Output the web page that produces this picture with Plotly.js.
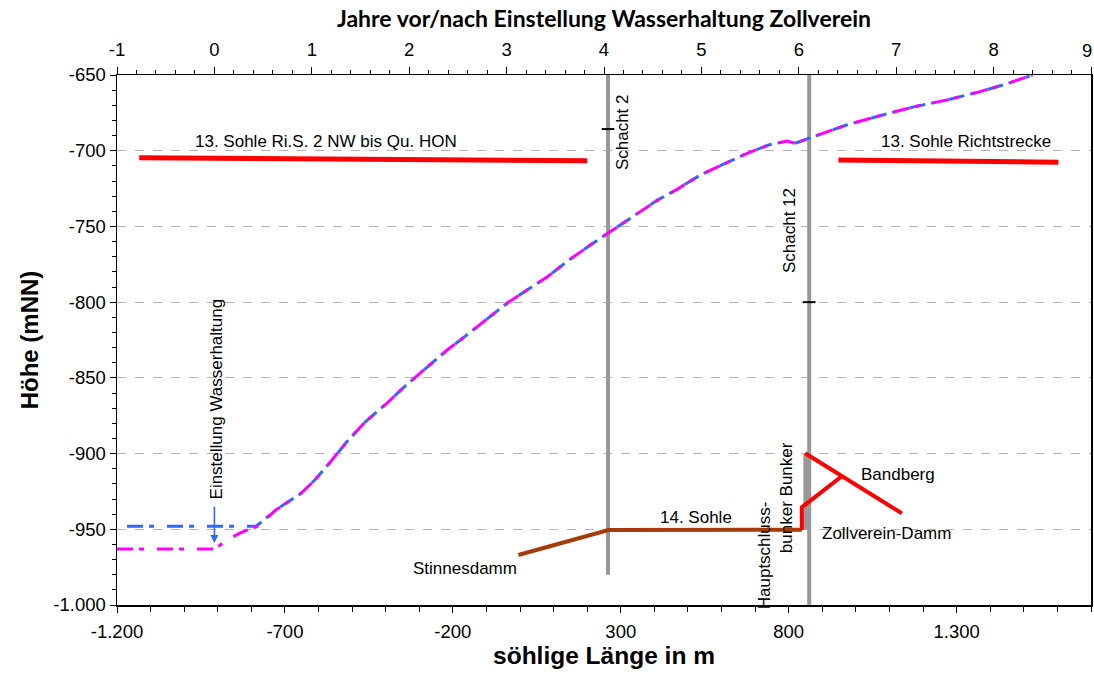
<!DOCTYPE html>
<html>
<head>
<meta charset="utf-8">
<script src="https://cdn.plot.ly/plotly-3.0.1.min.js"></script>
<style>html,body{margin:0;padding:0;background:#fff;}#chart{width:1094px;height:678px;}</style>
</head>
<body>
<div id="chart"></div>
<script>
// ---- water level rise (top axis: years after stop of dewatering) ----
const blueYears = [-1, 0.43, 0.63, 0.89, 1.03, 1.18, 1.36, 1.55, 1.77, 1.95, 2.17, 2.39, 2.57, 2.83, 3.01, 3.42, 3.64, 3.86, 4.04, 4.30, 4.55, 4.74, 4.99, 5.21, 5.47, 5.69, 5.88, 5.96, 6.11, 6.25, 6.49, 6.86, 7.19, 7.52, 7.86, 8.13, 8.37];
const blueLevel = [-948, -948, -937.3, -926.2, -917.5, -906.4, -892.2, -879.0, -866.8, -855.9, -843.7, -831.6, -822.8, -809.6, -800.4, -783.2, -772.2, -762.3, -754.5, -743.6, -732.6, -725.9, -716.0, -709.4, -701.7, -696.2, -693.6, -695.1, -691.8, -688.5, -683.0, -676.4, -670.9, -666.5, -661.0, -655.9, -650.7];
const magentaYears = [-1, 0, 0.15, 0.26, 0.45, 0.63, 0.89, 1.03, 1.18, 1.36, 1.55, 1.77, 1.95, 2.17, 2.39, 2.57, 2.83, 3.01, 3.42, 3.64, 3.86, 4.04, 4.30, 4.55, 4.74, 4.99, 5.21, 5.47, 5.69, 5.88, 5.96, 6.11, 6.25, 6.49, 6.86, 7.19, 7.52, 7.86, 8.13, 8.40];
const magentaLevel = [-963, -963, -956.4, -952.5, -947.8, -937.3, -926.2, -917.5, -906.4, -892.2, -879.0, -866.8, -855.9, -843.7, -831.6, -822.8, -809.6, -800.4, -783.2, -772.2, -762.3, -754.5, -743.6, -732.6, -725.9, -716.0, -709.4, -701.7, -696.2, -693.6, -695.1, -691.8, -688.5, -683.0, -676.4, -670.9, -666.5, -661.0, -655.9, -650.0];

// ---- mine workings (bottom axis: horizontal length in m) ----
const schacht2X = [262, 262];
const schacht2Y = [-650, -980];
const schacht12X = [861, 861];
const schacht12Y = [-650, -1000];
const bunkerX = [854, 854];
const bunkerY = [-900, -950];
const sohle14X = [-5, 263, 839];
const sohle14Y = [-967, -950.5, -950.3];
const sohle13WestX = [-1134, 200];
const sohle13WestY = [-704.6, -706.6];
const sohle13EastX = [948, 1603];
const sohle13EastY = [-706.1, -707.6];
const dammX = [839, 839, 956];
const dammY = [-950.5, -935.5, -915.3];
const bandbergX = [849, 1137];
const bandbergY = [-899.8, -939.5];
const shaftMarkX = [262, 861];
const shaftMarkY = [-685.7, -800];

// ---- tick labels ----
const xTickVals = [-1200, -700, -200, 300, 800, 1300];
const xTickText = ['-1.200', '-700', '-200', '300', '800', '1.300'];
const x2TickVals = [-1, 0, 1, 2, 3, 4, 5, 6, 7, 8, 9];
const x2TickText = ['-1', '0', '1', '2', '3', '4', '5', '6', '7', '8', '9'];
const yTickVals = [-1000, -950, -900, -850, -800, -750, -700, -650];
const yTickText = ['-1.000', '-950', '-900', '-850', '-800', '-750', '-700', '-650'];

// ---- labels ----
const labelTexts = ["13. Sohle Ri.S. 2 NW bis Qu. HON", "13. Sohle Richtstrecke", "14. Sohle", "Stinnesdamm", "Bandberg", "Zollverein-Damm"];
const labelX = [-578, 1328, 524, -164, 1126, 1090];
const labelY = [-693.6, -693.6, -941.9, -975.6, -913.5, -953.1];
const vLabelTexts = ["Schacht 2", "Schacht 12", "Hauptschluss-", "bunker Bunker"];
const vLabelX = [307, 804, 727, 792];
const vLabelY = [-687.6, -753, -967, -929.4];
const stopLabel = "Einstellung Wasserhaltung";
const stopYear = 0;
const stopLabelLevel = -864;
const arrowTipLevel = -959;
const arrowTailLevel = -934;

const xTitle = "söhlige Länge in m";
const x2Title = "Jahre vor/nach Einstellung Wasserhaltung Zollverein";
const yTitle = "Höhe (mNN)";

const GRAY = 'rgb(152,152,152)';
const RED = '#FF0000';
const BROWN = '#A63A08';
const BLUE = 'rgb(51,102,255)';
const MAGENTA = '#FF00FF';
const AR = 'Liberation Sans, Arial, sans-serif';

function seg(x, y, color, width, xaxis) {
  return {x: x, y: y, type: 'scatter', mode: 'lines', xaxis: xaxis || 'x', yaxis: 'y',
          line: {color: color, width: width}, hoverinfo: 'skip', showlegend: false};
}

const traces = [
  seg(schacht2X, schacht2Y, GRAY, 4),
  seg(schacht12X, schacht12Y, GRAY, 4),
  seg(bunkerX, bunkerY, GRAY, 7),
  seg(sohle14X, sohle14Y, BROWN, 4),
  seg(sohle13WestX, sohle13WestY, RED, 5),
  seg(sohle13EastX, sohle13EastY, RED, 5),
  seg(dammX, dammY, RED, 4),
  seg(bandbergX, bandbergY, RED, 4),
  {x: shaftMarkX, y: shaftMarkY, type: 'scatter', mode: 'markers', xaxis: 'x', yaxis: 'y',
   marker: {symbol: 'line-ew', size: 9, line: {color: '#000', width: 2}}, hoverinfo: 'skip', showlegend: false},
  {x: blueYears, y: blueLevel, type: 'scatter', mode: 'lines', xaxis: 'x2', yaxis: 'y', name: 'Wasserstand 1',
   line: {color: BLUE, width: 3, dash: '0px,10px,16px,6px,5px,3px'}, showlegend: false},
  {x: magentaYears, y: magentaLevel, type: 'scatter', mode: 'lines', xaxis: 'x2', yaxis: 'y', name: 'Wasserstand 2',
   line: {color: MAGENTA, width: 3, dash: '16px,6px,5px,13px'}, showlegend: false}
];

const annotations = [];
labelTexts.forEach((t, i) => annotations.push({x: labelX[i], y: labelY[i], xref: 'x', yref: 'y', text: t,
  showarrow: false, font: {family: AR, size: 17, color: '#000'}}));
vLabelTexts.forEach((t, i) => annotations.push({x: vLabelX[i], y: vLabelY[i], xref: 'x', yref: 'y', text: t,
  showarrow: false, textangle: -90, font: {family: AR, size: 17, color: '#000'}}));
annotations.push({x: stopYear, y: stopLabelLevel, xref: 'x2', yref: 'y', text: stopLabel, xshift: 2,
  showarrow: false, textangle: -90, font: {family: AR, size: 17, color: '#000'}});
annotations.push({x: stopYear, y: arrowTipLevel, xref: 'x2', yref: 'y', ax: stopYear, ay: arrowTailLevel,
  axref: 'x2', ayref: 'y', text: '', showarrow: true, arrowhead: 2, arrowsize: 1, arrowwidth: 1.6, arrowcolor: BLUE});
// last top-axis label sits at the right edge of the figure: drawn inside the page
const lastTop = x2TickVals.length - 1;
annotations.push({x: x2TickVals[lastTop], y: 1, xref: 'x2', yref: 'paper', text: x2TickText[lastTop],
  xanchor: 'right', yanchor: 'middle', xshift: 3, yshift: 25, showarrow: false,
  font: {family: AR, size: 18.5, color: '#000'}});
const topTickText = x2TickText.map((t, i) => i === lastTop ? '' : t);

const tickFont = {family: AR, size: 18.5, color: '#000'};

const layout = {
  width: 1094, height: 678,
  margin: {l: 117, r: 3, t: 75, b: 73, pad: 0},
  paper_bgcolor: '#fff', plot_bgcolor: '#fff',
  showlegend: false,
  xaxis: {
    range: [-1200, 1700], tickmode: 'array', tickvals: xTickVals, ticktext: xTickText,
    ticks: 'outside', ticklen: 6, tickwidth: 1, tickcolor: '#000', ticklabelstandoff: 3,
    showline: true, linecolor: '#000', linewidth: 1.5, showgrid: false, zeroline: false,
    tickfont: tickFont, automargin: false,
    minor: {dtick: 100, tick0: -1200, ticks: 'outside', ticklen: 5, tickcolor: '#000', showgrid: false},
    title: {text: '<b>' + xTitle + '</b>', font: {family: AR, size: 24.5, color: '#000'}, standoff: 6}
  },
  xaxis2: {
    overlaying: 'x', side: 'top', anchor: 'y',
    range: [-1, 9], tickmode: 'array', tickvals: x2TickVals, ticktext: topTickText,
    ticks: 'outside', ticklen: 7, tickwidth: 1, tickcolor: '#000', ticklabelstandoff: 3,
    showline: true, linecolor: '#000', linewidth: 1.5, showgrid: false, zeroline: false,
    tickfont: tickFont, automargin: false,
    minor: {dtick: 0.2, tick0: -1, ticks: 'outside', ticklen: 4, tickcolor: '#000', showgrid: false},
    title: {text: '<b>' + x2Title + '</b>', font: {family: 'Lato, Open Sans, sans-serif', size: 23, color: '#000'}, standoff: 5}
  },
  yaxis: {
    range: [-1000, -650], tickmode: 'array', tickvals: yTickVals, ticktext: yTickText,
    ticks: 'outside', ticklen: 6, tickwidth: 1, tickcolor: '#000',
    showline: true, linecolor: '#000', linewidth: 1.5, mirror: true, zeroline: false,
    showgrid: true, gridcolor: '#b4b4b4', gridwidth: 1, griddash: 'dash',
    tickfont: tickFont, automargin: false,
    minor: {dtick: 10, tick0: -1000, ticks: 'outside', ticklen: 4, tickcolor: '#000', showgrid: false},
    title: {text: '<b>' + yTitle + '</b>', font: {family: AR, size: 24, color: '#000'}, standoff: 8}
  },
  annotations: annotations
};

Plotly.newPlot('chart', traces, layout, {staticPlot: true, displayModeBar: false});
</script>
</body>
</html>
